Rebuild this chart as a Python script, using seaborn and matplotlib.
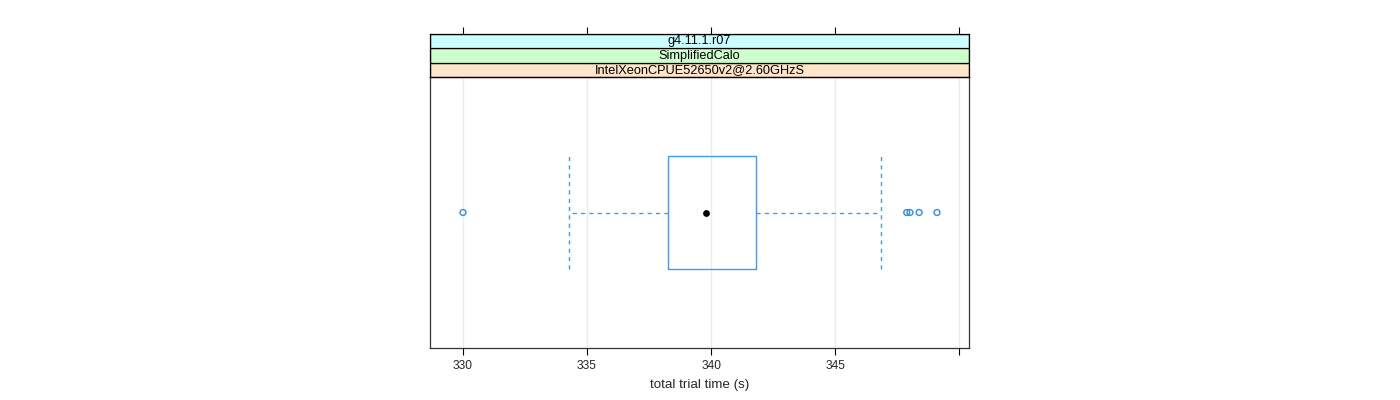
import matplotlib
matplotlib.use("Agg")
import matplotlib.pyplot as plt
import seaborn as sns
import numpy as np

# ---- data ----
strip_labels = ["IntelXeonCPUE52650v2@2.60GHzS", "SimplifiedCalo", "g4.11.1.r07"]
strip_colors = ["#ffe5cc", "#ccffcc", "#ccffff"]
box_q1 = 338.27
box_median = 339.81
box_q3 = 341.80
whisker_low = 334.26
whisker_high = 346.87
outliers = [330.0, 347.89, 348.02, 348.39, 349.11]
tick_values = [330, 335, 340, 345, 350]
tick_labels = ["330", "335", "340", "345", ""]
x_label = "total trial time (s)"

sns.set_theme(style="white")
plt.rcParams["font.family"] = ["Liberation Sans", "DejaVu Sans"]

fig = plt.figure(figsize=(14, 4), dpi=100)
ax = fig.add_axes([430 / 1400, 52 / 400, 539 / 1400, 271 / 400])
sax = fig.add_axes([430 / 1400, 323 / 400, 539 / 1400, 43 / 400])

xlim = (328.67, 350.40)
blue = "#3d9bff"

# grid
for t in tick_values:
    ax.axvline(t, color="#ebebeb", lw=0.9, zorder=0)

stats = [dict(q1=box_q1, med=box_median, q3=box_q3, whislo=whisker_low,
              whishi=whisker_high, fliers=[], label="")]
ax.bxp(stats, positions=[0], widths=0.5, capwidths=0.5,
       orientation="horizontal", showfliers=False,
       boxprops=dict(color=blue, lw=1.0),
       whiskerprops=dict(color=blue, lw=1.0, linestyle=(0, (3, 3))),
       capprops=dict(color=blue, lw=1.0, linestyle=(0, (3, 3))),
       medianprops=dict(visible=False))

sns.scatterplot(x=outliers, y=[0] * len(outliers), ax=ax, marker="o",
                facecolor="none", edgecolor="#2a8cff", linewidth=1.0, s=18, zorder=3)
sns.scatterplot(x=[box_median], y=[0], ax=ax, color="black", s=24,
                linewidth=0, zorder=4)

ax.set_xlim(*xlim)
ax.set_ylim(-0.6, 0.6)
ax.set_yticks([])
ax.set_xticks(tick_values)
ax.set_xticklabels(tick_labels, fontsize=8.6)
ax.tick_params(axis="x", bottom=True, direction="out", length=5, width=0.8,
               color="black", pad=3.5)
ax.set_xlabel(x_label, fontsize=9.6, labelpad=5)
for s in ax.spines.values():
    s.set_color("#333333")
    s.set_linewidth(0.9)

# strips
sax.set_xlim(*xlim)
sax.set_ylim(0, 3)
for i, (lab, col) in enumerate(zip(strip_labels, strip_colors)):
    sax.axhspan(i, i + 1, facecolor=col, edgecolor="black", lw=0.9)
    sax.text(np.mean(xlim), i + 0.5, lab, ha="center", va="center",
             fontsize=9.2, color="black")
sax.set_yticks([])
sax.set_xticks(tick_values)
sax.set_xticklabels([])
sax.xaxis.tick_top()
sax.tick_params(axis="x", top=True, bottom=False, direction="out", length=5,
                width=0.8, color="black")
for s in sax.spines.values():
    s.set_color("black")
    s.set_linewidth(0.9)

fig.savefig("out.png", dpi=100, facecolor="white")
